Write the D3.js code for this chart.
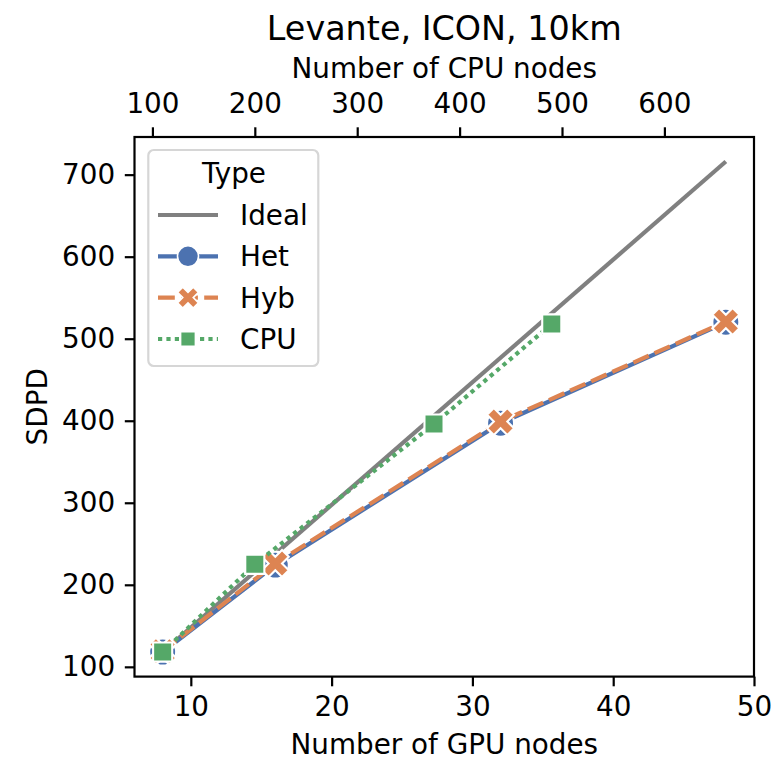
<!DOCTYPE html>
<html>
<head>
<meta charset="utf-8">
<script src="https://cdn.jsdelivr.net/npm/d3@7"></script>
<style>
  html, body { margin: 0; padding: 0; background: #fff; }
  svg text { font-family: "DejaVu Sans", sans-serif; fill: #000; }
</style>
</head>
<body>
<svg id="chart" width="779" height="761"></svg>
<script>
// ---------------- data ----------------
const title = "Levante, ICON, 10km";
const xLabel = "Number of GPU nodes";
const x2Label = "Number of CPU nodes";
const yLabel = "SDPD";
const legendTitle = "Type";

const idealGPU = [8, 48];
const idealSDPD = [118, 716];

const hetGPU = [8, 16, 32, 48];
const hetSDPD = [118, 224, 397, 520];

const hybGPU = [8, 16, 32, 48];
const hybSDPD = [119, 226, 399, 521];

const cpuNodes = [110, 200, 375, 490];
const cpuSDPD = [118, 225, 396, 518];
const cpuPerGPU = 13.75;   // secondary axis conversion

const xTicks = [10, 20, 30, 40, 50];
const x2Ticks = [100, 200, 300, 400, 500, 600];
const yTicks = [100, 200, 300, 400, 500, 600, 700];

const seriesNames = ["Ideal", "Het", "Hyb", "CPU"];
const colors = { Ideal: "#808080", Het: "#4c72b0", Hyb: "#dd8452", CPU: "#55a868" };

// ---------------- layout ----------------
const L = 134.5, R = 754, T = 137, B = 676.6;
const LW = 4.2;
const fs = 27.8;

const svg = d3.select("#chart");

const allY = idealSDPD.concat(hetSDPD, hybSDPD, cpuSDPD);
const yMin = d3.min(allY), yMax = d3.max(allY);
const yPad = (yMax - yMin) * 0.05;
const x = d3.scaleLinear().domain([6, 50]).range([L, R]);
const x2 = d3.scaleLinear().domain([6 * cpuPerGPU, 50 * cpuPerGPU]).range([L, R]);
const y = d3.scaleLinear().domain([yMin - yPad, yMax + yPad]).range([B, T]);

// axes
function styleAxis(g) {
  g.select(".domain").remove();
  g.selectAll(".tick line").attr("stroke", "#000").attr("stroke-width", 2.2);
  g.selectAll(".tick text").attr("font-size", fs).attr("font-family", "DejaVu Sans");
}
svg.append("g").attr("transform", `translate(0,${B})`)
  .call(d3.axisBottom(x).tickValues(xTicks).tickFormat(d3.format("d")).tickSize(9.7).tickPadding(9.7))
  .call(styleAxis);
svg.append("g").attr("transform", `translate(0,${T})`)
  .call(d3.axisTop(x2).tickValues(x2Ticks).tickFormat(d3.format("d")).tickSize(9.7).tickPadding(14))
  .call(styleAxis);
svg.append("g").attr("transform", `translate(${L},0)`)
  .call(d3.axisLeft(y).tickValues(yTicks).tickFormat(d3.format("d")).tickSize(9.7).tickPadding(9.7))
  .call(styleAxis);

// plot clip
svg.append("clipPath").attr("id", "clip").append("rect")
  .attr("x", L).attr("y", T).attr("width", R - L).attr("height", B - T);
const plot = svg.append("g").attr("clip-path", "url(#clip)");

// custom filled X (matplotlib 'X')
const filledX = {
  draw(ctx, size) {
    const s = Math.sqrt(size);  // full extent
    const pts = [[-0.25,-0.5],[0,-0.25],[0.25,-0.5],[0.5,-0.25],[0.25,0],[0.5,0.25],
                 [0.25,0.5],[0,0.25],[-0.25,0.5],[-0.5,0.25],[-0.25,0],[-0.5,-0.25]];
    pts.forEach((p, i) => { const px = p[0]*s, py = p[1]*s; i ? ctx.lineTo(px, py) : ctx.moveTo(px, py); });
    ctx.closePath();
  }
};
const circleSym = { draw(ctx, size) { const r = Math.sqrt(size) / 2; ctx.moveTo(r, 0); ctx.arc(0, 0, r, 0, 2 * Math.PI); } };
const squareSym = { draw(ctx, size) { const h = Math.sqrt(size) / 2 / Math.SQRT2; ctx.rect(-h, -h, 2 * h, 2 * h); } };

const series = [
  { name: "Ideal", xs: idealGPU, ys: idealSDPD, dash: null, sym: null },
  { name: "Het", xs: hetGPU, ys: hetSDPD, dash: null, sym: circleSym },
  { name: "Hyb", xs: hybGPU, ys: hybSDPD, dash: `${4*LW},${1.5*LW}`, sym: filledX },
  { name: "CPU", xs: cpuNodes.map(c => c / cpuPerGPU), ys: cpuSDPD, dash: `${LW},${LW}`, sym: squareSym },
];

const MS = 27;
const line = d3.line().x(d => x(d[0])).y(d => y(d[1]));
series.forEach(s => {
  const pts = s.xs.map((v, i) => [v, s.ys[i]]);
  plot.append("path").attr("d", line(pts)).attr("fill", "none")
    .attr("stroke", colors[s.name]).attr("stroke-width", LW)
    .attr("stroke-dasharray", s.dash).attr("stroke-linecap", "butt");
  if (s.sym) {
    plot.selectAll(null).data(pts).enter().append("path")
      .attr("transform", d => `translate(${x(d[0])},${y(d[1])})`)
      .attr("d", d3.symbol().type(s.sym).size(MS * MS))
      .attr("fill", colors[s.name]).attr("stroke", "#fff").attr("stroke-width", 2.1);
  }
});

// frame
svg.append("rect").attr("x", L).attr("y", T).attr("width", R - L).attr("height", B - T)
  .attr("fill", "none").attr("stroke", "#000").attr("stroke-width", 2.2);

// labels
svg.append("text").attr("x", (L + R) / 2).attr("y", 40).attr("text-anchor", "middle")
  .attr("font-size", 33.4).text(title);
svg.append("text").attr("x", (L + R) / 2).attr("y", 78).attr("text-anchor", "middle")
  .attr("font-size", fs).text(x2Label);
svg.append("text").attr("x", (L + R) / 2).attr("y", 754).attr("text-anchor", "middle")
  .attr("font-size", fs).text(xLabel);
svg.append("text").attr("transform", `translate(47,${(T + B) / 2}) rotate(-90)`)
  .attr("text-anchor", "middle").attr("font-size", fs).text(yLabel);

// legend
const lg = svg.append("g");
lg.append("rect").attr("x", 148.3).attr("y", 150).attr("width", 170).attr("height", 216)
  .attr("rx", 5.5).attr("fill", "#fff").attr("fill-opacity", 0.8)
  .attr("stroke", "#d6d6d6").attr("stroke-width", 2.2);
lg.append("text").attr("x", 234).attr("y", 183).attr("text-anchor", "middle")
  .attr("font-size", fs).text(legendTitle);
const legY = [215, 256.3, 297.6, 339];
series.forEach((s, i) => {
  const yy = legY[i];
  lg.append("line").attr("x1", 158).attr("x2", 218).attr("y1", yy).attr("y2", yy)
    .attr("stroke", colors[s.name]).attr("stroke-width", LW).attr("stroke-dasharray", s.dash);
  if (s.sym) {
    lg.append("path").attr("transform", `translate(188,${yy})`)
      .attr("d", d3.symbol().type(s.sym).size(21 * 21))
      .attr("fill", colors[s.name]).attr("stroke", "#fff").attr("stroke-width", 1.6);
  }
  lg.append("text").attr("x", 240).attr("y", yy + 10).attr("font-size", fs).text(s.name);
});
</script>
</body>
</html>
